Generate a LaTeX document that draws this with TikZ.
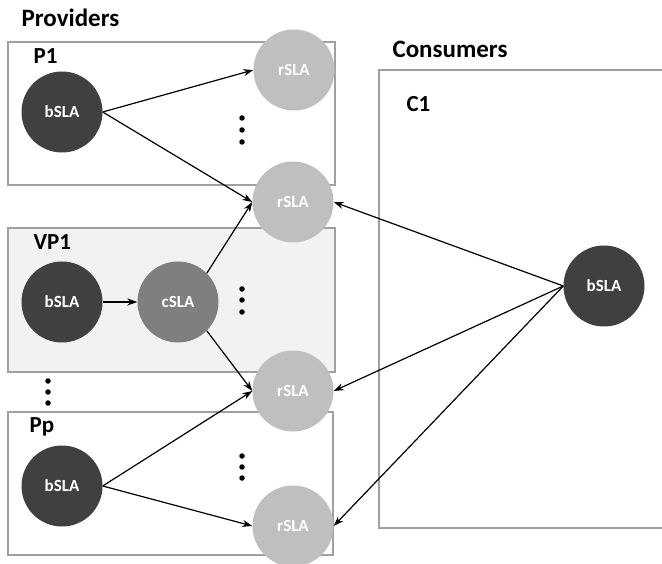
\documentclass[tikz,border=0pt]{standalone}
\usepackage{fontspec}
\setmainfont{Carlito}
\usetikzlibrary{arrows.meta}
\definecolor{dk}{HTML}{404040}
\definecolor{md}{HTML}{7F7F7F}
\definecolor{lt}{HTML}{BFBFBF}
\definecolor{boxgray}{HTML}{A0A0A0}
\definecolor{vpfill}{HTML}{F2F2F2}
\begin{document}
\begin{tikzpicture}[x=1pt,y=-1pt,
  box/.style={draw=boxgray, line width=1.2pt},
  sla/.style={circle, minimum size=81pt, inner sep=0pt, text=white, font=\fontsize{17}{17}\selectfont\bfseries},
  bsla/.style={sla, fill=dk},
  csla/.style={sla, fill=md},
  rsla/.style={sla, fill=lt},
  head/.style={anchor=base west, font=\fontsize{25}{25}\selectfont\bfseries},
  lab/.style={anchor=base west, font=\fontsize{23}{23}\selectfont\bfseries},
  arr/.style={-{Stealth[length=10pt,width=7pt]}, line width=1.2pt},
  dotn/.style={circle, fill=black, inner sep=0pt, minimum size=5.5pt}
]
\useasboundingbox (0,0) rectangle (662,564);
% boxes
\draw[box] (8,42) rectangle (335,185);
\draw[box, fill=vpfill] (8,228) rectangle (335,372);
\draw[box] (8,412) rectangle (333,555);
\draw[box] (379,70) rectangle (664,528);
% labels
\node[head] (provh) at (18,27) {Providers};
\node[head] (consh) at (389,58) {Consumers};
\node[lab] (p1l) at (30,64) {P1};
\node[lab] (vp1l) at (30,250) {VP1};
\node[lab] (ppl) at (26,432) {Pp};
\node[lab] (c1l) at (403,112) {C1};
% circles
\node[bsla] (b1) at (62,112) {bSLA};
\node[bsla] (bv) at (62,302) {bSLA};
\node[csla] (cv) at (178,302) {cSLA};
\node[bsla] (bp) at (62,486) {bSLA};
\node[rsla] (r1) at (294,70) {rSLA};
\node[rsla] (r2) at (293,202) {rSLA};
\node[rsla] (r3) at (293,391) {rSLA};
\node[rsla] (r4) at (293,526) {rSLA};
\node[bsla] (cb) at (604,286) {bSLA};
% dots
\node[dotn] (d1a) at (242,118) {};
\node[dotn] (d1b) at (242,130) {};
\node[dotn] (d1c) at (242,142) {};
\node[dotn] (d2a) at (242,289) {};
\node[dotn] (d2b) at (242,300) {};
\node[dotn] (d2c) at (242,312) {};
\node[dotn] (d3a) at (48,381) {};
\node[dotn] (d3b) at (48,392) {};
\node[dotn] (d3c) at (48,403) {};
\node[dotn] (d4a) at (242,456) {};
\node[dotn] (d4b) at (242,467) {};
\node[dotn] (d4c) at (242,478) {};
% arrows
\draw[arr] (b1.east) -- (r1.west);
\draw[arr] (b1.east) -- (r2.west);
\draw[arr] (bv.east) -- (cv.west);
\draw[arr] (cv.north east) -- (r2.west);
\draw[arr] (cv.south east) -- (r3.west);
\draw[arr] (bp.east) -- (r3.west);
\draw[arr] (bp.east) -- (r4.west);
\draw[arr] (cb.west) -- (r2.east);
\draw[arr] (cb.west) -- (r3.east);
\draw[arr] (cb.west) -- (r4.east);
\end{tikzpicture}
\end{document}
